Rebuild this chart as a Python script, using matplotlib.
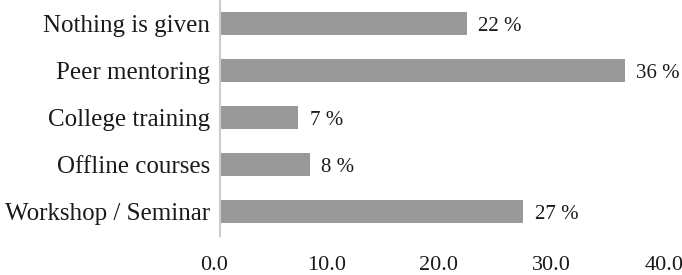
import matplotlib
matplotlib.use("Agg")
import matplotlib.pyplot as plt
from matplotlib.transforms import ScaledTranslation

categories = ["Workshop / Seminar", "Offline courses", "College training", "Peer mentoring", "Nothing is given"]
values = [27, 8, 7, 36, 22]
value_labels = ["27 %", "8 %", "7 %", "36 %", "22 %"]
xticks = [0, 10, 20, 30, 40]
xtick_labels = ["0.0", "10.0", "20.0", "30.0", "40.0"]

plt.rcParams['font.family'] = ['Liberation Serif', 'DejaVu Serif']

fig = plt.figure(figsize=(6.82, 2.75), dpi=100)
ax = fig.add_axes([0.322, 0.1436, 0.66, 0.8564])
ypos = list(range(len(categories)))
ax.barh(ypos, values, height=0.49, color="#999999")
for y, v, lab in zip(ypos, values, value_labels):
    ax.text(v + 1.0, y, lab, va="center_baseline", ha="left", fontsize=15, color="#1a1a1a")
ax.set_xlim(0, 40)
ax.set_ylim(-0.5, 4.5)
ax.set_yticks(ypos)
ax.set_yticklabels(categories, fontsize=18, color="#1a1a1a", va="center_baseline")
ax.set_xticks(xticks)
ax.set_xticklabels(xtick_labels, fontsize=16, color="#1a1a1a")
ax.tick_params(axis="both", length=0)
ax.tick_params(axis="x", pad=14.5)
ax.tick_params(axis="y", pad=7)
offset = ScaledTranslation(-6 / 100, 0, fig.dpi_scale_trans)
for lbl in ax.get_xticklabels():
    lbl.set_transform(lbl.get_transform() + offset)
for s in ["top", "right", "bottom"]:
    ax.spines[s].set_visible(False)
ax.spines["left"].set_color("#cccccc")
ax.spines["left"].set_linewidth(1.5)
fig.savefig("out.png", dpi=100)
